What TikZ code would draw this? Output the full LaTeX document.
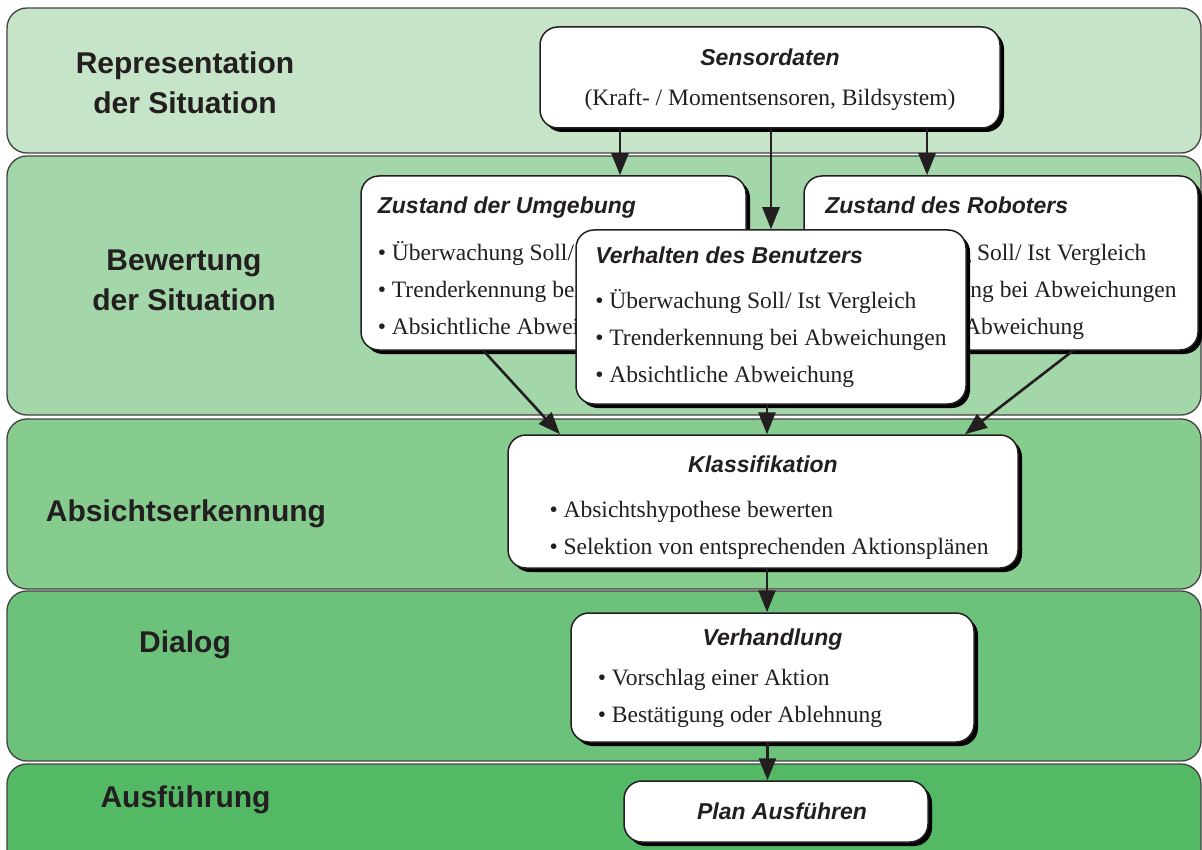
\documentclass[tikz,border=0pt]{standalone}
\usepackage{fontspec}
\setmainfont{Liberation Serif}
\setsansfont{Liberation Sans}
\usepackage{xcolor}
\usepackage{tikz}
\usetikzlibrary{arrows.meta,shadows,positioning}
\definecolor{bandA}{HTML}{C6E4C8}
\definecolor{bandB}{HTML}{A3D6A9}
\definecolor{bandC}{HTML}{86CC8F}
\definecolor{bandD}{HTML}{6CC27B}
\definecolor{bandE}{HTML}{53B965}
\definecolor{ink}{HTML}{231F20}
\newcommand{\ttl}[2][0pt]{\rule{0pt}{#1}{\sffamily\bfseries\itshape\fontsize{23}{37}\selectfont #2}}
\newcommand{\bul}{\textbullet~}
\tikzset{
  band/.style={draw=ink!85, line width=1.3pt, rounded corners=20pt},
  bandlab/.style={font=\sffamily\bfseries\fontsize{30}{40}\selectfont,
                  text=ink, align=center},
  card/.style={draw=ink, fill=white, line width=1.5pt, rounded corners=18pt,
               inner xsep=6pt, inner ysep=4pt, text=ink,
               font=\rmfamily\fontsize{23.5}{37}\selectfont,
               drop shadow={shadow xshift=4pt, shadow yshift=-4pt,
                            fill=black, opacity=1}},
  flow/.style={draw=ink, line width=2.6pt,
               -{Triangle[width=17pt,length=22pt]}}
}
\begin{document}
\begin{tikzpicture}[x=1pt,y=-1pt]
  \clip (0,0) rectangle (1202,850);
  \fill[white] (0,0) rectangle (1202,850);
  % the five layers
  \draw[band, fill=bandA] (7,8) rectangle (1201,153);
  \draw[band, fill=bandB] (7,156) rectangle (1201,415);
  \draw[band, fill=bandC] (7,419) rectangle (1201,589);
  \draw[band, fill=bandD] (7,591) rectangle (1201,761);
  \draw[band, fill=bandE] (7,764) rectangle (1201,880);
  \node[bandlab] (repr) at (185,83) {Representation\\der Situation};
  \node[bandlab] (bew) at (184,280) {Bewertung\\der Situation};
  \node[bandlab] (abs) at (186,514) {Absichtserkennung};
  \node[bandlab] (dia) at (185,645) {Dialog};
  \node[bandlab] (aus) at (185.5,800) {Ausführung};
  % boxes
  \node[card, minimum width=460pt, minimum height=101pt, align=center]
    (sens) at (770,77.5)
    {\ttl[21pt]{Sensordaten}\\[3pt](Kraft- / Momentsensoren, Bildsystem)};
  \node[card, minimum width=385pt, minimum height=174pt, align=left]
    (umg) at (553.5,263)
    {\ttl[27pt]{Zustand der Umgebung}\\[10pt]
     \bul Überwachung Soll/ Ist Vergleich\\
     \bul Trenderkennung bei Abweichungen\\
     \bul Absichtliche Abweichung};
  \node[card, minimum width=394pt, minimum height=174pt, align=left]
    (rob) at (1001,263)
    {\ttl[27pt]{Zustand des Roboters}\\[10pt]
     \bul Überwachung Soll/ Ist Vergleich\\
     \bul Trenderkennung bei Abweichungen\\
     \bul Absichtliche Abweichung};
  \node[card, minimum width=390pt, minimum height=174pt, align=left]
    (benu) at (771,317)
    {\ttl{Verhalten des Benutzers}\\[8pt]
     \bul Überwachung Soll/ Ist Vergleich\\
     \bul Trenderkennung bei Abweichungen\\
     \bul Absichtliche Abweichung};
  \node[card, inner ysep=0pt, minimum width=510pt, minimum height=133pt,
        align=center] (klass) at (763,501.5)
    {\ttl[35pt]{Klassifikation}\\[8pt]
     \hspace*{12pt}\begin{tabular}[t]{@{}l@{}}
       \bul Absichtshypothese bewerten\\
       \bul Selektion von entsprechenden Aktionsplänen
     \end{tabular}};
  \node[card, minimum width=403pt, minimum height=129pt, align=center]
    (verh) at (772.5,677.5)
    {\ttl[25pt]{Verhandlung}\\[3pt]
     \hspace*{-65pt}\begin{tabular}[t]{@{}l@{}}
       \bul Vorschlag einer Aktion\\
       \bul Bestätigung oder Ablehnung
     \end{tabular}};
  \node[card, minimum width=304pt, minimum height=61pt] (plan) at (776,811.5)
    {\hspace*{12pt}\ttl{Plan Ausführen}};
  % connectors
  \draw[flow] ([xshift=-150pt]sens.south) -- ([xshift=-150pt]sens.south |- umg.north);
  \draw[flow] (sens.south -| benu.north) -- (benu.north);
  \draw[flow] ([xshift=157pt]sens.south) -- ([xshift=157pt]sens.south |- rob.north);
  \draw[flow] ([xshift=-70pt]umg.south) -- ([xshift=-203pt]klass.north);
  \draw[flow] ([xshift=-4pt]benu.south) -- ([xshift=-4pt]benu.south |- klass.north);
  \draw[flow] ([xshift=72pt]rob.south) -- ([xshift=202pt]klass.north);
  \draw[flow] ([xshift=4pt]klass.south) -- ([xshift=4pt]klass.south |- verh.north);
  \draw[flow] ([xshift=-5pt]verh.south) -- ([xshift=-5pt]verh.south |- plan.north);
\end{tikzpicture}
\end{document}
